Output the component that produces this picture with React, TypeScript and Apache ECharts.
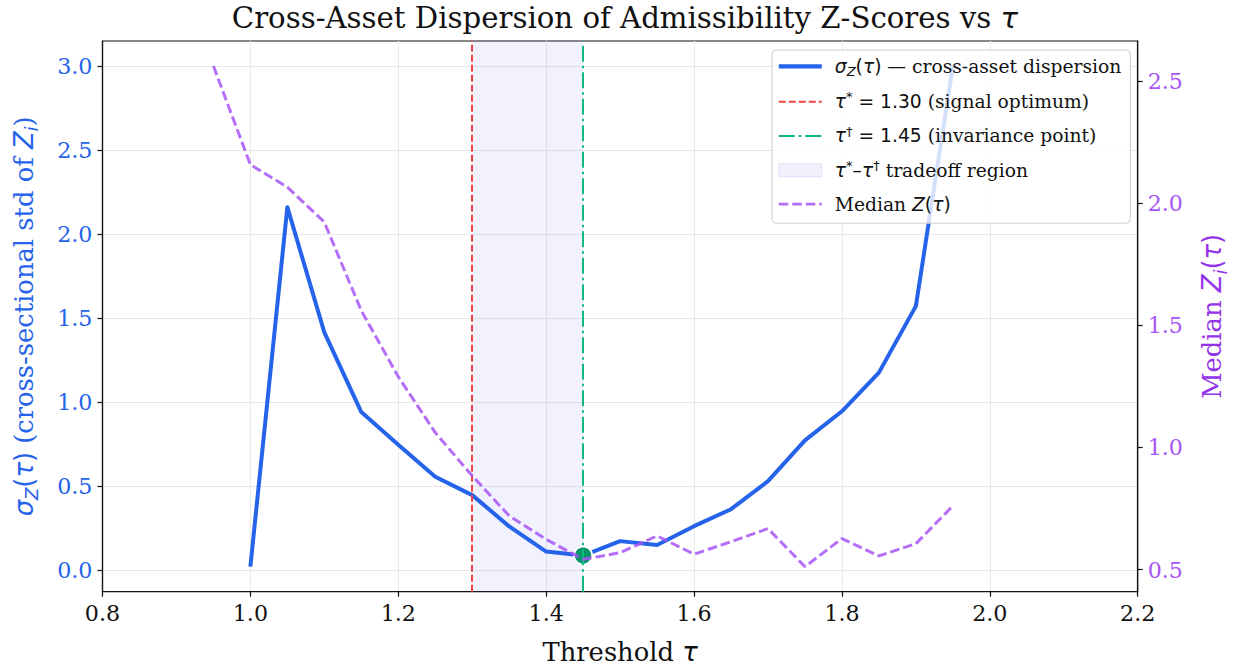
import React, { useEffect, useRef } from "react";
import * as echarts from "echarts";

// ---- data ----
const tauSigma = [1.0, 1.05, 1.1, 1.15, 1.2, 1.25, 1.3, 1.35, 1.4, 1.45, 1.5, 1.55, 1.6, 1.65, 1.7, 1.75, 1.8, 1.85, 1.9, 1.95];
const sigmaZ = [0.02, 2.16, 1.415, 0.94, 0.745, 0.555, 0.446, 0.26, 0.11, 0.086, 0.172, 0.149, 0.261, 0.362, 0.529, 0.772, 0.945, 1.175, 1.571, 3.0];
const tauMedian = [0.95, 1.0, 1.05, 1.1, 1.15, 1.2, 1.25, 1.3, 1.35, 1.4, 1.45, 1.5, 1.55, 1.6, 1.65, 1.7, 1.75, 1.8, 1.85, 1.9, 1.95];
const medianZ = [2.562, 2.158, 2.066, 1.923, 1.56, 1.29, 1.061, 0.884, 0.72, 0.624, 0.542, 0.569, 0.638, 0.563, 0.614, 0.668, 0.512, 0.627, 0.556, 0.606, 0.761];
const tauStar = 1.3;
const tauDagger = 1.45;
const xTicks = [0.8, 1.0, 1.2, 1.4, 1.6, 1.8, 2.0, 2.2];
const leftTicks = [0, 0.5, 1.0, 1.5, 2.0, 2.5, 3.0];
const rightTicks = [0.5, 1.0, 1.5, 2.0, 2.5];

const NAME_SIGMA = "sigma";
const NAME_STAR = "star";
const NAME_DAGGER = "dagger";
const NAME_REGION = "region";
const NAME_MEDIAN = "median";

const BLUE = "#2563eb";
const RED = "#ef4444";
const GREEN = "#10b981";
const GREEN_DARK = "#059669";
const PURPLE = "#a855f7";
const SERIF = "DejaVu Serif";
const SANS = "DejaVu Sans";

function padExtent(arr: number[]) {
  const lo = Math.min(...arr);
  const hi = Math.max(...arr);
  const p = (hi - lo) * 0.05;
  return [lo - p, hi + p];
}

export default function App() {
  const ref = useRef<HTMLDivElement>(null);
  useEffect(() => {
    if (!ref.current) return;
    const chart = echarts.init(ref.current, null, { renderer: "svg" });
    const [lMin, lMax] = padExtent(sigmaZ);
    const [rMin, rMax] = padExtent(medianZ);
    const dIdx = tauSigma.findIndex((t) => Math.abs(t - tauDagger) < 1e-9);

    const mathRich = (size: number, color: string) => ({
      m: { fontFamily: SANS, fontStyle: "italic", fontSize: size, color, lineHeight: size * 1.15 },
      n: { fontFamily: SANS, fontSize: size, color, lineHeight: size * 1.15 },
      s: { fontFamily: SANS, fontStyle: "italic", fontSize: size * 0.7, color, verticalAlign: "bottom", lineHeight: size * 1.3 },
      sup: { fontFamily: SANS, fontSize: size * 0.7, color, verticalAlign: "top", lineHeight: size * 1.2 },
      t: { fontFamily: SERIF, fontSize: size, color, lineHeight: size * 1.15 },
    });

    const legendLabels: Record<string, string> = {
      [NAME_SIGMA]: "{m|σ}{s|Z}{n|(}{m|τ}{n|)}{t| — cross-asset dispersion}",
      [NAME_STAR]: "{m|τ}{sup|*}{n| = 1.30}{t| (signal optimum)}",
      [NAME_DAGGER]: "{m|τ}{sup|†}{n| = 1.45}{t| (invariance point)}",
      [NAME_REGION]: "{m|τ}{sup|*}{n|–}{m|τ}{sup|†}{t| tradeoff region}",
      [NAME_MEDIAN]: "{t|Median }{m|Z}{n|(}{m|τ}{n|)}",
    };

    const TICK = 22.2;
    const NAMEF = 25.8;
    const LEG = 18.7;

    const option: any = {
      animation: false,
      backgroundColor: "#ffffff",
      title: {
        text: "{t|Cross-Asset Dispersion of Admissibility Z-Scores vs }{m|τ}",
        left: 620,
        top: -4,
        textAlign: "center",
        textStyle: {
          fontFamily: SERIF,
          fontWeight: "normal",
          fontSize: 29.2,
          color: "#111",
          rich: mathRich(29.2, "#111"),
        },
      },
      grid: {
        left: 102.5,
        right: 99.3,
        top: 41,
        bottom: 75.3,
        show: true,
        borderColor: "#111",
        borderWidth: 1.2,
        containLabel: false,
        outerBoundsMode: "none",
      },
      legend: {
        orient: "vertical",
        left: 772,
        top: 50,
        padding: [4.2, 9, 8.2, 4.7],
        itemGap: 11.9,
        itemWidth: 43,
        itemHeight: 13,
        backgroundColor: "rgba(255,255,255,0.8)",
        borderColor: "#cccccc",
        borderWidth: 1,
        borderRadius: 4,
        itemStyle: { opacity: 0 },
        data: [
          { name: NAME_SIGMA, lineStyle: { width: 4.2 } },
          { name: NAME_STAR, lineStyle: { width: 2 } },
          { name: NAME_DAGGER, lineStyle: { width: 2 } },
          {
            name: NAME_REGION,
            icon: "rect",
            itemStyle: { opacity: 1, color: "rgba(99,102,241,0.09)", borderColor: "rgba(99,102,241,0.14)", borderWidth: 1 },
          },
          { name: NAME_MEDIAN, lineStyle: { width: 2.8 } },
        ],
        formatter: (name: string) => legendLabels[name] || name,
        textStyle: {
          fontFamily: SERIF,
          fontSize: LEG,
          color: "#111",
          lineHeight: 25,
          padding: [0, 0, 0, 8],
          rich: mathRich(LEG, "#111"),
        },
      },
      xAxis: {
        type: "value",
        min: xTicks[0],
        max: xTicks[xTicks.length - 1],
        interval: 0.2,
        name: "{t|Threshold }{m|τ}",
        nameLocation: "middle",
        nameGap: 45,
        nameTextStyle: { fontFamily: SERIF, fontSize: NAMEF, color: "#111", rich: mathRich(NAMEF, "#111") },
        axisLine: { show: true, onZero: false, lineStyle: { color: "#111", width: 1.2 } },
        axisTick: { show: true, length: 5, lineStyle: { color: "#111", width: 1.2 }, customValues: xTicks },
        axisLabel: {
          customValues: xTicks,
          formatter: (v: number) => v.toFixed(1),
          fontFamily: SERIF,
          fontSize: TICK,
          color: "#111",
          margin: 10,
        },
        splitLine: { show: true, lineStyle: { color: "#e8e8e8", width: 1 } },
      },
      yAxis: [
        {
          type: "value",
          position: "left",
          min: lMin,
          max: lMax,
          name: "{m|σ}{s|Z}{n|(}{m|τ}{n|)}{t| (cross-sectional std of }{m|Z}{s|i}{t|)}",
          nameLocation: "middle",
          nameRotate: 90,
          nameGap: 62,
          nameTextStyle: { fontFamily: SERIF, fontSize: NAMEF, color: BLUE, rich: mathRich(NAMEF, BLUE) },
          axisLine: { show: true, onZero: false, lineStyle: { color: "#111", width: 1.2 } },
          axisTick: { show: true, length: 5, lineStyle: { color: "#111", width: 1.2 }, customValues: leftTicks },
          axisLabel: {
            customValues: leftTicks,
            formatter: (v: number) => v.toFixed(1),
            fontFamily: SERIF,
            fontSize: TICK,
            color: BLUE,
            margin: 10,
          },
          splitLine: { show: true, lineStyle: { color: "#e8e8e8", width: 1 } },
        },
        {
          type: "value",
          position: "right",
          min: rMin,
          max: rMax,
          name: "{t|Median }{m|Z}{s|i}{n|(}{m|τ}{n|)}",
          nameLocation: "middle",
          nameRotate: 90,
          nameGap: 58,
          nameTextStyle: { fontFamily: SERIF, fontSize: NAMEF, color: "#9333ea", rich: mathRich(NAMEF, "#9333ea") },
          axisLine: { show: true, onZero: false, lineStyle: { color: "#111", width: 1.2 } },
          axisTick: { show: true, length: 5, lineStyle: { color: "#111", width: 1.2 }, customValues: rightTicks },
          axisLabel: {
            customValues: rightTicks,
            formatter: (v: number) => v.toFixed(1),
            fontFamily: SERIF,
            fontSize: TICK,
            color: PURPLE,
            margin: 10,
          },
          splitLine: { show: false },
        },
      ],
      series: [
        {
          name: NAME_REGION,
          type: "line",
          data: [],
          z: 1,
          itemStyle: { color: "rgba(99,102,241,0.09)" },
          lineStyle: { width: 0 },
          markArea: {
            silent: true,
            itemStyle: { color: "rgba(99,102,241,0.085)" },
            data: [[{ xAxis: tauStar }, { xAxis: tauDagger }]],
          },
        },
        {
          name: NAME_STAR,
          type: "line",
          data: [],
          z: 2,
          symbol: "none",
          itemStyle: { color: RED },
          lineStyle: { color: RED, width: 2, type: [7, 3] },
          markLine: {
            silent: true,
            symbol: "none",
            label: { show: false },
            lineStyle: { color: RED, width: 2, type: [7, 3] },
            data: [{ xAxis: tauStar }],
          },
        },
        {
          name: NAME_DAGGER,
          type: "line",
          data: [],
          z: 2,
          symbol: "none",
          itemStyle: { color: GREEN },
          lineStyle: { color: GREEN, width: 2, type: [16, 4, 2.5, 4] },
          markLine: {
            silent: true,
            symbol: "none",
            label: { show: false },
            lineStyle: { color: GREEN, width: 2, type: [16, 4, 2.5, 4] },
            data: [{ xAxis: tauDagger }],
          },
        },
        {
          name: NAME_SIGMA,
          type: "line",
          yAxisIndex: 0,
          z: 3,
          symbol: "none",
          data: tauSigma.map((t, i) => [t, sigmaZ[i]]),
          itemStyle: { color: BLUE },
          lineStyle: { color: BLUE, width: 4, join: "round" },
        },
        {
          name: "marker",
          type: "scatter",
          yAxisIndex: 0,
          z: 4,
          symbol: "circle",
          symbolSize: 18,
          data: [[tauSigma[dIdx], sigmaZ[dIdx]]],
          itemStyle: { color: GREEN_DARK, borderColor: "#ffffff", borderWidth: 1.8, opacity: 1 },
        },
        {
          name: NAME_MEDIAN,
          type: "line",
          yAxisIndex: 1,
          z: 5,
          symbol: "none",
          data: tauMedian.map((t, i) => [t, medianZ[i]]),
          itemStyle: { color: PURPLE },
          lineStyle: { color: PURPLE, width: 3, opacity: 0.85, type: [9.5, 4] },
        },
      ],
    };
    chart.setOption(option);
    return () => chart.dispose();
  }, []);
  return (
    <div
      ref={ref}
      style={{ position: "absolute", left: 0, top: 0, width: 1237, height: 667, background: "#fff" }}
    />
  );
}
